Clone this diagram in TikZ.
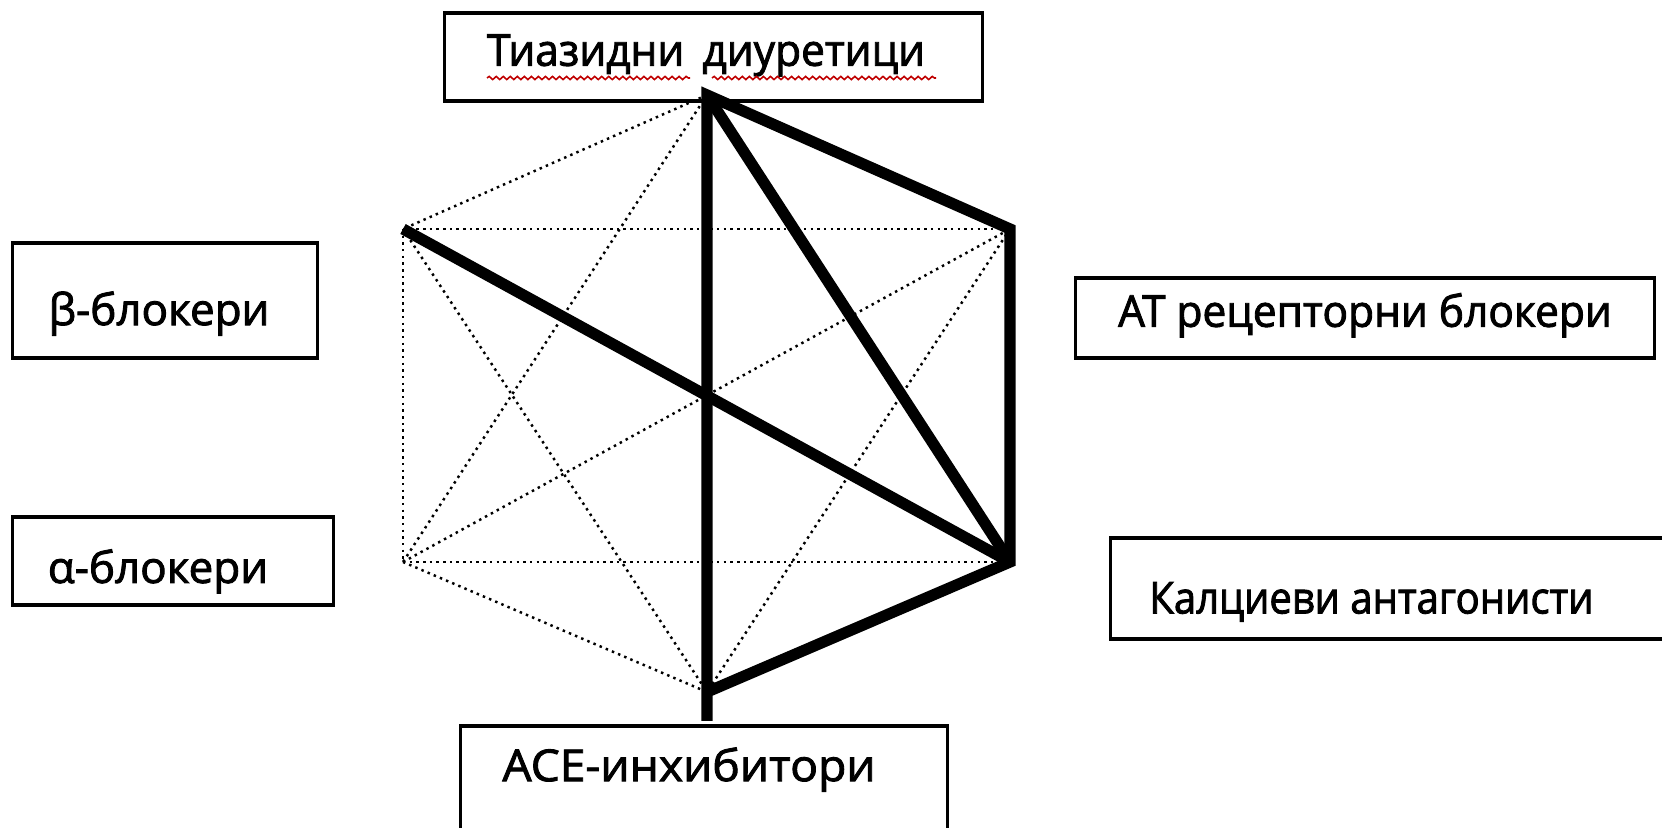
\documentclass[tikz,border=0pt]{standalone}
\usepackage{fontspec}
\setmainfont{Open Sans}[FakeBold=2]
\newfontfamily\narrowfont{Open Sans}[FakeBold=2, FakeStretch=0.91]
\newfontfamily\slimfont{Open Sans}[FakeBold=2, FakeStretch=0.965]
\newfontfamily\widefont{Open Sans}[FakeBold=2, FakeStretch=1.05]
\usetikzlibrary{decorations.pathmorphing}

\begin{document}
\begin{tikzpicture}[x=0.01cm, y=-0.01cm,
    box/.style={draw, line width=0.9pt, inner sep=0pt, text height=0.75em, text depth=0.25em,
        font=\fontsize{12.5}{15}\selectfont},
    faint/.style={line width=0.7pt, dash pattern=on 0.7pt off 1.2pt},
    strong/.style={line width=3.2pt},
    squiggle/.style={red!75!black, line width=0.45pt, decorate,
        decoration={snake, amplitude=0.45pt, segment length=2pt}}]
    %%%%% START %%%%%
    \useasboundingbox (0,0) rectangle (1662,828);
    \clip (0,0) rectangle (1662,828);

    % corners of the hexagon
    \coordinate (vtz) at (707,95);
    \coordinate (vbeta) at (403,229);
    \coordinate (vat) at (1010,229);
    \coordinate (valpha) at (403,562);
    \coordinate (vca) at (1010,562);
    \coordinate (vace) at (707,692);
    \coordinate (vend) at (707,721);

    % boxes
    \node[box, minimum width=5.37cm, minimum height=0.88cm] (tzbox) at (713.5,57) {\slimfont Тиазидни\, диуретици\kern0.15cm};
    \node[box, minimum width=3.04cm, minimum height=1.15cm, text height=1.5em, text depth=0.1em] (betabox) at (165,300.5) {β-блокери\kern0.12cm};
    \node[box, minimum width=3.20cm, minimum height=0.88cm, text height=1.4em, text depth=0.15em] (alphabox) at (173,561) {α-блокери\kern0.3cm};
    \node[box, minimum width=5.78cm, minimum height=0.80cm] (atbox) at (1365,318) {\slimfont АТ рецепторни блокери};
    \node[box, minimum width=5.61cm, minimum height=1.01cm, text height=1.45em, text depth=0.03em] (cabox) at (1391.5,588.5) {\narrowfont Калциеви антагонисти\kern0.4cm};
    \node[box, minimum width=4.86cm, minimum height=1.12cm, text height=0.6em, text depth=0.65em] (acebox) at (704,782) {\widefont ACE-инхибитори\kern0.3cm};

    % spell-check marks
    \draw[squiggle] (487,78) -- (690,78);
    \draw[squiggle] (712,78) -- (936,78);

    % every pair, dotted
    \foreach \a/\b in {vtz/vbeta, vtz/valpha, vtz/vat, vtz/vca, vtz/vace,
        vbeta/valpha, vbeta/vat, vbeta/vca, vbeta/vace,
        valpha/vat, valpha/vca, valpha/vace,
        vat/vca, vat/vace, vca/vace}
        \draw[faint] (\a) -- (\b);

    % the good combinations
    \draw[strong] (vend) -- (vtz) -- (vat) -- (vca) -- (vace);
    \draw[strong] (vtz) -- (vca);
    \draw[strong] (vbeta) -- (vca);
    %%%%% END %%%%%
\end{tikzpicture}
\end{document}
